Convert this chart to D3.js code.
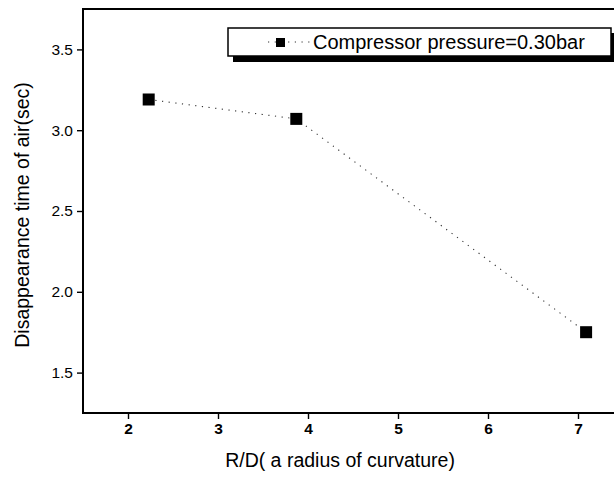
<!DOCTYPE html>
<html>
<head>
<meta charset="utf-8">
<script src="https://cdn.jsdelivr.net/npm/d3@7"></script>
<style>
  html, body { margin: 0; padding: 0; background: #fff; }
  svg { display: block; font-family: "Liberation Sans", Arial, sans-serif; }
</style>
</head>
<body>
<svg id="chart" width="614" height="480"></svg>
<script>
// Curvature ratio vs. time for the air to disappear
const ratioRD = [2.23, 3.87, 7.09];
const timeSec = [3.19, 3.07, 1.75];
const seriesLabel = "Compressor pressure=0.30bar";
const xTicks = [2, 3, 4, 5, 6, 7];
const yTicks = [1.5, 2.0, 2.5, 3.0, 3.5];
const xTitle = "R/D( a radius of curvature)";
const yTitle = "Disappearance time of air(sec)";

const svg = d3.select("#chart");
const plotL = 83, plotR = 623, plotT = 9, plotB = 413;

const x = d3.scaleLinear().domain([1.5, 7.5]).range([plotL, plotR]);
const y = d3.scaleLinear().domain([1.25, 3.75]).range([plotB, plotT]);

// frame
svg.append("rect")
  .attr("x", plotL).attr("y", plotT)
  .attr("width", plotR - plotL).attr("height", plotB - plotT)
  .attr("fill", "none").attr("stroke", "#000").attr("stroke-width", 2);

// axes
const xAxis = svg.append("g")
  .attr("transform", `translate(0,${plotB})`)
  .call(d3.axisBottom(x).tickValues(xTicks).tickSize(6).tickPadding(4).tickFormat(d3.format("d")));
xAxis.select(".domain").remove();
xAxis.selectAll("line").attr("stroke-width", 1.4);
xAxis.selectAll("text")
  .attr("font-size", 15.5).attr("font-weight", "bold")
  .attr("font-family", "Liberation Sans, Arial, sans-serif").attr("fill", "#000");

const yAxis = svg.append("g")
  .attr("transform", `translate(${plotL},0)`)
  .call(d3.axisLeft(y).tickValues(yTicks).tickSize(6).tickPadding(4).tickFormat(d3.format(".1f")));
yAxis.select(".domain").remove();
yAxis.selectAll("line").attr("stroke-width", 1.4);
yAxis.selectAll("text")
  .attr("font-size", 15.5)
  .attr("font-family", "Liberation Sans, Arial, sans-serif").attr("fill", "#000");

// axis titles
svg.append("text")
  .attr("x", 340).attr("y", 467)
  .attr("text-anchor", "middle")
  .attr("font-size", 19.5)
  .text(xTitle);

svg.append("text")
  .attr("transform", "translate(29,215) rotate(-90)")
  .attr("text-anchor", "middle")
  .attr("font-size", 19.5)
  .text(yTitle);

// series
const pts = ratioRD.map((r, i) => [r, timeSec[i]]);
svg.append("path")
  .datum(pts)
  .attr("d", d3.line().x(d => x(d[0])).y(d => y(d[1])))
  .attr("fill", "none").attr("stroke", "#333")
  .attr("stroke-width", 1.1).attr("stroke-dasharray", "1.2,5.5");

const sq = 12;
svg.selectAll("rect.pt")
  .data(pts).join("rect")
  .attr("class", "pt")
  .attr("x", d => x(d[0]) - sq / 2).attr("y", d => y(d[1]) - sq / 2)
  .attr("width", sq).attr("height", sq)
  .attr("fill", "#000");

// legend with drop shadow
const lg = svg.append("g");
lg.append("rect").attr("x", 233).attr("y", 33).attr("width", 383).attr("height", 29).attr("fill", "#000");
lg.append("rect").attr("x", 228).attr("y", 28).attr("width", 383).attr("height", 28)
  .attr("fill", "#fff").attr("stroke", "#000").attr("stroke-width", 1.5);
lg.append("line").attr("x1", 268).attr("x2", 310).attr("y1", 42).attr("y2", 42)
  .attr("stroke", "#333").attr("stroke-width", 1.1).attr("stroke-dasharray", "1.2,5.5");
lg.append("rect").attr("x", 276).attr("y", 38).attr("width", 9).attr("height", 9).attr("fill", "#000");
lg.append("text").attr("x", 313).attr("y", 48.5)
  .attr("font-size", 20).text(seriesLabel);
</script>
</body>
</html>
